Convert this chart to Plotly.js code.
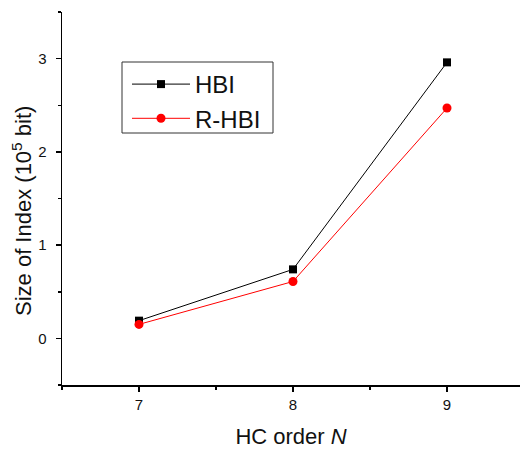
<!DOCTYPE html>
<html>
<head>
<meta charset="utf-8">
<script src="https://cdn.plot.ly/plotly-3.0.1.min.js"></script>
<style>html,body{margin:0;padding:0;background:#fff;}#chart{width:520px;height:449px;}</style>
</head>
<body>
<div id="chart"></div>
<script>
const orders = [7, 8, 9];
const hbi = [0.19, 0.74, 2.96];
const rhbi = [0.15, 0.61, 2.47];
const seriesNames = ['HBI', 'R-HBI'];
const xTicks = [7, 8, 9];
const yTicks = [0, 1, 2, 3];

const font = 'Liberation Sans, Arial, sans-serif';

// plot area in px: left 62, right 520, top 12, bottom 385
const px = v => (v - 62) / 458;
const py = v => (385 - v) / 373;

const traces = [
  {
    x: orders, y: hbi, name: seriesNames[0], type: 'scatter', mode: 'lines+markers',
    line: {color: '#000000', width: 1},
    marker: {symbol: 'square', size: 8, color: '#000000'}
  },
  {
    x: orders, y: rhbi, name: seriesNames[1], type: 'scatter', mode: 'lines+markers',
    line: {color: '#ff0000', width: 1},
    marker: {symbol: 'circle', size: 9, color: '#ff0000'}
  }
];

const layout = {
  width: 520, height: 449,
  margin: {l: 62, r: 0, t: 12, b: 64},
  paper_bgcolor: '#fff', plot_bgcolor: '#fff',
  font: {family: font, color: '#111', size: 15},
  showlegend: true,
  legend: {
    x: px(127), y: py(62), xanchor: 'left', yanchor: 'top',
    borderwidth: 0, bgcolor: 'rgba(0,0,0,0)',
    font: {family: font, size: 24, color: '#111'},
    itemwidth: 58
  },
  shapes: [
    {type: 'rect', xref: 'paper', yref: 'paper', x0: px(122), x1: px(273), y0: py(62), y1: py(133),
     line: {color: '#333', width: 1}, fillcolor: 'rgba(0,0,0,0)', layer: 'below'}
  ],
  annotations: [
    {text: 'Size of Index (10<sup>5</sup> bit)', xref: 'paper', yref: 'paper', x: px(22), y: py(211),
     xanchor: 'center', yanchor: 'middle', textangle: -90, showarrow: false,
     font: {family: font, size: 22, color: '#111'}}
  ],
  xaxis: {
    range: [6.5, 9.474],
    tickvals: xTicks, ticktext: xTicks.map(String),
    ticks: 'outside', ticklen: 5, tickwidth: 1.5, tickcolor: '#000',
    minor: {dtick: 0.5, tick0: 6.5, ticks: 'outside', ticklen: 3, tickwidth: 1.5, tickcolor: '#000'},
    showline: true, linecolor: '#000', linewidth: 1.5,
    showgrid: false, zeroline: false,
    tickfont: {family: font, size: 15, color: '#111'},
    title: {text: 'HC order <i>N</i>', font: {family: font, size: 22, color: '#111'}, standoff: 18},
    automargin: false
  },
  yaxis: {
    range: [-0.5, 3.5],
    tickvals: yTicks, ticktext: yTicks.map(String),
    ticks: 'outside', ticklen: 5, tickwidth: 1.5, tickcolor: '#000',
    minor: {dtick: 0.5, tick0: -0.5, ticks: 'outside', ticklen: 3, tickwidth: 1.5, tickcolor: '#000'},
    showline: true, linecolor: '#000', linewidth: 1.5,
    showgrid: false, zeroline: false,
    ticklabelstandoff: 6,
    tickfont: {family: font, size: 15, color: '#111'},
    automargin: false
  }
};

Plotly.newPlot('chart', traces, layout, {displayModeBar: false, staticPlot: true});
</script>
</body>
</html>
